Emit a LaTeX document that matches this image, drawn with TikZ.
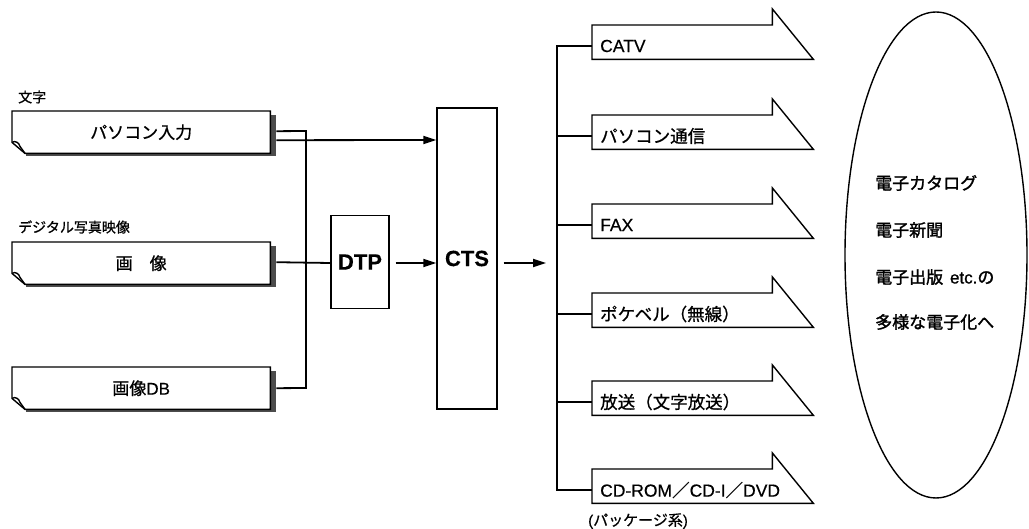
\documentclass[tikz,border=0pt]{standalone}
\usepackage{fontspec}
\setmainfont{Liberation Sans}[FakeBold=0.4]
\newfontfamily\jp{Noto Sans CJK JP}[FakeBold=0.8]
\newfontfamily\jpb{Noto Sans CJK JP}[FakeBold=1.6]
\newfontfamily\latb{Liberation Sans}[FakeBold=1.0]
\usetikzlibrary{arrows.meta,shapes.geometric}
\tikzset{
  docline/.style={line width=1.4pt, line join=miter},
  conn/.style={line width=1.8pt},
  arr/.style={conn,-{Triangle[length=13pt,width=8pt]}},
  shadowfill/.style={fill=black!70},
  docnode/.style={inner sep=0pt, minimum width=258pt, minimum height=42pt, font=\jp\fontsize{17}{20}\selectfont},
  outbody/.style={inner sep=0pt, minimum width=180pt, minimum height=34pt},
  olabel/.style={inner sep=0pt, font=\fontsize{17.5}{20}\selectfont},
  smalllabel/.style={inner sep=0pt, font=\jp\fontsize{14}{16}\selectfont},
  procbox/.style={draw, line width=1.4pt, inner sep=0pt, font=\bfseries\fontsize{22}{26}\selectfont},
  elltext/.style={inner sep=0pt, font=\jpb\fontsize{17}{20}\selectfont},
}
\newcommand\mkdocbox[3]{%
  \node[docnode, anchor=north west] (#1) at (12,#2) {#3};
  \fill[shadowfill] ([yshift=-4pt]#1.north east) rectangle ([xshift=6pt,yshift=-3pt]#1.south east);
  \fill[shadowfill] ([xshift=14pt]#1.south west) rectangle ([xshift=6pt,yshift=-3pt]#1.south east);
  \draw[docline] (#1.south east) -- (#1.north east) -- (#1.north west) -- ([yshift=11pt]#1.south west) -- ([xshift=13pt]#1.south west) -- cycle;
  \draw[docline] ([yshift=11pt]#1.south west) .. controls ([xshift=3pt,yshift=13pt]#1.south west) and ([xshift=7pt,yshift=11pt]#1.south west) .. ([xshift=8pt,yshift=7pt]#1.south west) -- ([xshift=13pt]#1.south west);
}
\newcommand\mkoutarrow[3]{%
  \node[outbody, anchor=north west] (#1) at (592,#2) {};
  \draw[docline] (#1.south west) -- (#1.north west) -- (#1.north east) -- ([yshift=16pt]#1.north east) -- ([xshift=41pt]#1.south east) -- cycle;
  \node[olabel, anchor=west] (#1t) at ([xshift=8pt,yshift=-21pt]#1.north west) {#3};
  \coordinate (#1j) at (557,{#2+21});
}
\begin{document}
\begin{tikzpicture}[x=1pt,y=-1pt]
\useasboundingbox (0,0) rectangle (1029,529);

% left labels
\node[smalllabel, anchor=west] (l1) at (18,97) {文字};
\node[smalllabel, anchor=west] (l2) at (18,227) {デジタル写真映像};

% document boxes
\mkdocbox{b1}{111}{パソコン入力}
\mkdocbox{b2}{242}{画\hspace{1em}像}
\mkdocbox{b3}{367}{画像{\rmfamily DB}}

% process boxes
\node[procbox, minimum width=58pt, minimum height=93pt] (dtp) at (360,262) {DTP};
\node[procbox, minimum width=60pt, minimum height=301pt] (cts) at (467,258.5) {CTS};

% left connectors
\coordinate (j1) at (306,131);
\coordinate (j3) at (306,388);
\draw[conn] ([xshift=6pt,yshift=1pt]b1.east) -- (j1) -- (j3) -- ([xshift=6pt]b3.east);
\draw[arr] ([xshift=6pt,yshift=-8pt]b1.east) -- (cts.west |- 0,140);
\draw[conn] ([xshift=6pt,yshift=1pt]b2.east) -- (dtp.west |- 0,263);
\draw[arr] ([xshift=6pt]dtp.east |- 0,263) -- (cts.west |- 0,263);
\coordinate (ctsout) at (546,263);
\draw[arr] ([xshift=6pt]cts.east |- 0,263) -- (ctsout);

% output arrows
\mkoutarrow{o1}{25}{CATV}
\mkoutarrow{o2}{115}{\jp パソコン通信}
\mkoutarrow{o3}{204}{FAX}
\mkoutarrow{o4}{293}{\jp ポケベル（無線）}
\mkoutarrow{o5}{381}{\jp 放送（文字放送）}
\mkoutarrow{o6}{469}{CD-ROM{\jp ／}CD-I{\jp ／}DVD}
\node[smalllabel, anchor=west, font=\jp\fontsize{15}{17}\selectfont] (pk) at (588,521) {{\rmfamily (}パッケージ系{\rmfamily )}};

% bus
\draw[conn] (o1j -| o1.west) -- (o1j) -- (o6j) -- (o6j -| o6.west);
\draw[conn] (o2j) -- (o2j -| o2.west);
\draw[conn] (o3j) -- (o3j -| o3.west);
\draw[conn] (o4j) -- (o4j -| o4.west);
\draw[conn] (o5j) -- (o5j -| o5.west);

% ellipse
\node[draw, ellipse, line width=1.4pt, minimum width=182pt, minimum height=486pt, inner sep=0pt] (ell) at (936,255) {};
\node[elltext, anchor=west] (e1) at (875,183) {電子カタログ};
\node[elltext, anchor=west] (e2) at (875,230) {電子新聞};
\node[elltext, anchor=west] (e3) at (875,277) {電子出版\hspace{0.4em}{\latb etc.}の};
\node[elltext, anchor=west] (e4) at (875,322) {多様な電子化へ};
\end{tikzpicture}
\end{document}
